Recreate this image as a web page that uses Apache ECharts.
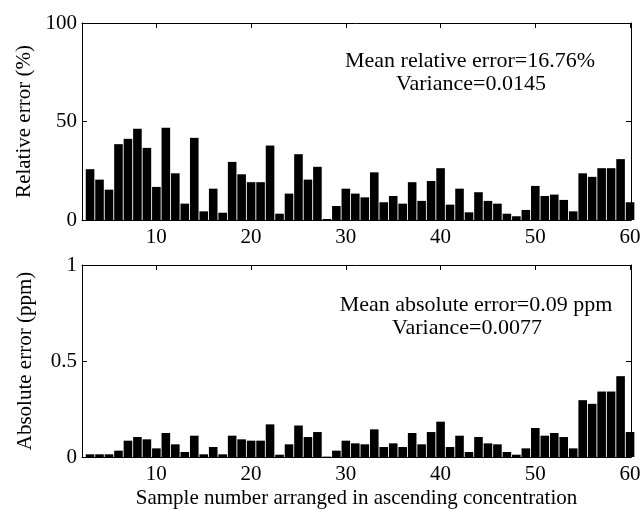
<!DOCTYPE html>
<html>
<head>
<meta charset="utf-8">
<script src="https://cdn.jsdelivr.net/npm/echarts@6/dist/echarts.min.js"></script>
<style>
html,body{margin:0;padding:0;background:#fff;}
#chart{width:644px;height:510px;}
</style>
</head>
<body>
<div id="chart"></div>
<script>
// Sample numbers (x positions of bars)
const sampleNumbers = [3,4,5,6,7,8,9,10,11,12,13,14,15,16,17,18,19,20,21,22,23,24,25,26,27,28,29,30,31,32,33,34,35,36,37,38,39,40,41,42,43,44,45,46,47,48,49,50,51,52,53,54,55,56,57,58,59,60];
// Relative error (%)
const relativeError = [25.8,20.5,15.4,38.5,41.2,46.3,36.6,16.8,46.8,23.7,8.3,41.7,4.4,15.9,3.7,29.5,23.2,19.2,19.2,37.8,3.2,13.4,33.4,20.5,27.0,0.5,7.1,15.9,13.4,11.5,24.2,9.0,12.2,8.3,19.2,9.7,19.8,26.3,7.8,15.9,3.9,14.1,9.7,8.3,3.2,1.9,5.1,17.3,12.2,12.9,10.2,4.4,23.7,21.9,26.3,26.3,30.9,9.0];
// Absolute error (ppm)
const absoluteError = [0.014,0.014,0.014,0.033,0.085,0.104,0.092,0.045,0.125,0.066,0.026,0.111,0.014,0.052,0.014,0.111,0.092,0.085,0.085,0.170,0.012,0.066,0.164,0.104,0.130,0.002,0.033,0.085,0.071,0.066,0.144,0.052,0.071,0.052,0.125,0.066,0.130,0.184,0.052,0.111,0.026,0.104,0.071,0.066,0.026,0.012,0.045,0.151,0.111,0.125,0.104,0.045,0.296,0.277,0.341,0.341,0.421,0.130];
// Tick values
const xTicks = [10,20,30,40,50,60];
const xRange = [2.15, 60.1];
const relTicks = {min:0, max:100, interval:50};
const absTicks = {min:0, max:1, interval:0.5};
const texts = {
  relTitle: 'Relative error (%)',
  absTitle: 'Absolute error (ppm)',
  xTitle: 'Sample number arranged in ascending concentration',
  relNote1: 'Mean relative error=16.76%',
  relNote2: 'Variance=0.0145',
  absNote1: 'Mean absolute error=0.09 ppm',
  absNote2: 'Variance=0.0077'
};

const FONT = '"Liberation Serif","Times New Roman",serif';
const FS = 21;
const NFS = 22;
const lineStyle = {color:'#000', width:1};

function xAxes(gi, withTitle){
  const bottom = {
    type:'value', gridIndex:gi, position:'bottom', min:xRange[0], max:xRange[1],
    axisLine:{show:true, onZero:false, lineStyle},
    axisTick:{show:true, inside:true, length:5, customValues:xTicks, lineStyle},
    axisLabel:{show:true, customValues:xTicks, fontFamily:FONT, fontSize:FS, color:'#000', margin:7},
    splitLine:{show:false}
  };
  if (withTitle){
    bottom.name = texts.xTitle;
    bottom.nameLocation = 'middle';
    bottom.nameGap = 31;
    bottom.nameTextStyle = {fontFamily:FONT, fontSize:FS, color:'#000'};
  }
  const top = {
    type:'value', gridIndex:gi, position:'top', min:xRange[0], max:xRange[1],
    axisLine:{show:true, onZero:false, lineStyle},
    axisTick:{show:true, inside:true, length:5, customValues:xTicks, lineStyle},
    axisLabel:{show:false},
    splitLine:{show:false}
  };
  return [bottom, top];
}
function yAxes(gi, t, title){
  const left = {
    type:'value', gridIndex:gi, position:'left', min:t.min, max:t.max, interval:t.interval,
    name:title, nameLocation:'middle', nameGap:46,
    nameTextStyle:{fontFamily:FONT, fontSize:FS, color:'#000'},
    axisLine:{show:true, onZero:false, lineStyle},
    axisTick:{show:true, inside:true, length:5, lineStyle},
    axisLabel:{fontFamily:FONT, fontSize:FS, color:'#000', margin:5},
    splitLine:{show:false}
  };
  const right = {
    type:'value', gridIndex:gi, position:'right', min:t.min, max:t.max, interval:t.interval,
    axisLine:{show:true, onZero:false, lineStyle},
    axisTick:{show:true, inside:true, length:5, lineStyle},
    axisLabel:{show:false},
    splitLine:{show:false}
  };
  return [left, right];
}

const relData = sampleNumbers.map((x,i)=>[x, relativeError[i]]);
const absData = sampleNumbers.map((x,i)=>[x, absoluteError[i]]);

const chart = echarts.init(document.getElementById('chart'), null, {renderer:'canvas'});
chart.setOption({
  animation:false,
  backgroundColor:'#fff',
  grid:[
    {left:82, right:13, top:23, height:197},
    {left:82, right:13, top:265, height:192}
  ],
  xAxis:[...xAxes(0,false), ...xAxes(1,true)],
  yAxis:[...yAxes(0, relTicks, texts.relTitle), ...yAxes(1, absTicks, texts.absTitle)],
  series:[
    {type:'bar', xAxisIndex:0, yAxisIndex:0, data:relData, barWidth:8.6, clip:true,
     itemStyle:{color:'#000'}},
    {type:'bar', xAxisIndex:2, yAxisIndex:2, data:absData, barWidth:8.6, clip:true,
     itemStyle:{color:'#000'}}
  ],
  graphic:[
    {type:'text', x:470, y:61, style:{text:texts.relNote1, align:'center', verticalAlign:'middle', font:NFS+'px '+FONT, fill:'#000'}},
    {type:'text', x:471, y:84, style:{text:texts.relNote2, align:'center', verticalAlign:'middle', font:NFS+'px '+FONT, fill:'#000'}},
    {type:'text', x:476, y:305, style:{text:texts.absNote1, align:'center', verticalAlign:'middle', font:NFS+'px '+FONT, fill:'#000'}},
    {type:'text', x:467, y:328, style:{text:texts.absNote2, align:'center', verticalAlign:'middle', font:NFS+'px '+FONT, fill:'#000'}}
  ]
});
</script>
</body>
</html>
